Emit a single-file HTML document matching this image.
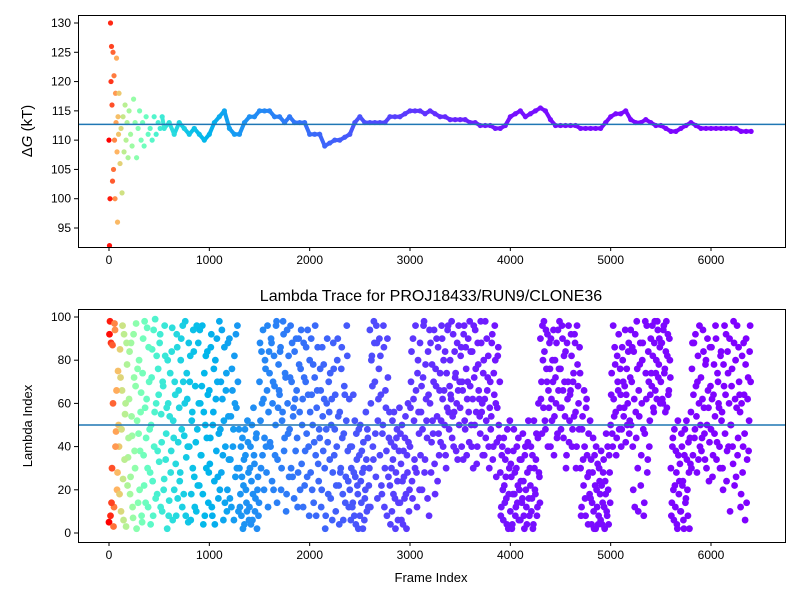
<!DOCTYPE html>
<html><head><meta charset="utf-8">
<style>
body{margin:0;background:#fff;}
svg{display:block;font-family:"Liberation Sans","DejaVu Sans",sans-serif;}
</style></head>
<body>
<svg id="chart" width="800" height="600" viewBox="0 0 800 600" xmlns="http://www.w3.org/2000/svg">
<rect width="800" height="600" fill="#fff"/>
<defs>
<clipPath id="clipTop"><rect x="78" y="15" width="707" height="232"/></clipPath>
<clipPath id="clipBot"><rect x="78" y="309" width="707" height="233"/></clipPath>
</defs>
<g id="topMarks" clip-path="url(#clipTop)"></g>
<g id="botMarks" clip-path="url(#clipBot)"></g>
<g id="axes"></g>
<text x="431" y="301" text-anchor="middle" font-size="16" fill="#000">Lambda Trace for PROJ18433/RUN9/CLONE36</text>
<text x="431" y="582" text-anchor="middle" font-size="13" fill="#000">Frame Index</text>
<text transform="translate(32,131) rotate(-90)" text-anchor="middle" font-size="15" fill="#000">Δ<tspan font-style="italic">G</tspan> (kT)</text>
<text transform="translate(32,426) rotate(-90)" text-anchor="middle" font-size="13" fill="#000">Lambda Index</text>
</svg>
<script>
const xTicks=[0,1000,2000,3000,4000,5000,6000];
const topYTicks=[95,100,105,110,115,120,125,130];
const botYTicks=[0,20,40,60,80,100];
const topMean=112.7;
const botMean=50;
const dgFrames=[0,5,10,15,20,25,30,35,40,45,50,55,60,65,70,75,80,85,90,95,100,110,120,130,140,150,160,170,180,190,200,215,230,245,260,275,290,305,320,335,350,370,390,410,430,450,470,490,510,530];
const dgValues=[110,92,100,130,120,126,116,103,125,105,121,110,100,118,113,124,108,96,114,111,118,106,112,101,114,108,116,110,113,107,115,111,109,117,113,107,112,115,110,113,109,114,111,112,110,114,111,113,112,114];
const dgLateStart=550;
const dgLateStep=50;
const dgLate=[112,113,111,113,112,111,112,111,110,111,113,114,115,112,111,111,113,114,114,115,115,115,114,114,113,114,113,113,113,111,111,111,109,109.5,110,110,110.5,111,113,114,113,113,113,113,113,114,114,114,114.5,115,115,115,114.5,115,114.5,114,114,113.5,113.5,113.5,113.5,113,113,112.5,112.5,112.5,112,112,112.5,114,114.5,115,114,114.5,115,115.5,115,113.5,112.5,112.5,112.5,112.5,112.5,112,112,112,112,112,113,114,114.5,114.5,115,113.5,113,113,113.5,113,112.5,112.5,112,111.5,111.5,112,112.5,113,112.5,112,112,112,112,112,112,112,112,111.5,111.5,111.5];
const lambdaStep=10;
const lambdaValues=[
5,98,88,30,60,12,94,47,20,75, 40,85,10,66,25,92,55,3,78,35, 62,18,88,45,7,72,30,97,52,14, 80,38,65,5,90,22,58,44,95,12,
70,28,50,85,8,40,99,60,18,76, 33,92,55,10,68,25,82,46,2,60, 15,74,38,95,52,20,64,8,86,42, 58,28,90,12,70,45,98,35,62,5,
40,82,18,56,94,26,68,10,48,88, 22,60,36,96,4,74,50,30,84,14, 66,44,92,8,56,24,80,38,70,16, 98,48,28,62,6,86,40,74,20,54,
90,34,12,66,48,82,26,58,96,10, 30,18,8,44,22,4,36,14,52,28, 12,40,24,6,58,32,16,46,20,8, 70,52,84,36,62,44,76,28,96,56,
74,40,88,60,20,68,50,98,34,78, 64,86,30,56,92,44,72,18,60,82, 48,96,70,26,58,84,38,66,12,90, 56,76,32,62,88,22,70,46,94,40,
80,28,64,50,14,72,36,58,86,24, 44,66,20,54,78,30,8,60,42,70, 34,16,62,28,76,48,10,40,90,22, 56,30,86,18,46,64,26,96,38,12,
20,6,40,14,28,52,4,34,18,48, 8,24,38,2,30,16,56,10,44,22, 94,60,82,40,98,70,26,88,52,76, 36,64,18,50,86,30,58,8,72,44,
22,42,10,34,56,16,28,48,6,38, 14,32,50,4,26,44,18,36,60,10, 40,70,24,90,52,30,66,12,80,46, 88,56,20,72,98,34,62,44,84,8,
60,28,78,46,94,18,68,54,86,36, 74,52,90,40,66,84,30,58,96,48, 80,62,44,92,56,72,38,88,66,50, 58,86,70,34,96,48,76,62,90,42,
68,50,84,30,72,94,56,40,78,62, 46,88,60,74,36,98,52,66,82,30, 70,54,92,40,64,80,26,58,86,44, 28,12,40,6,22,34,16,48,2,30,
10,26,4,38,18,8,30,14,44,20, 6,34,16,24,2,40,12,28,52,8, 22,10,36,4,30,18,46,12,60,26, 90,70,96,58,84,48,76,92,66,88,
40,62,80,94,54,72,88,46,66,98, 76,58,90,44,70,84,36,62,96,52, 66,82,48,74,92,56,40,78,60,86, 30,12,54,22,40,8,62,26,46,18,
16,4,28,10,36,2,20,32,8,24, 6,22,14,34,2,18,10,40,4,28, 50,74,40,62,86,56,44,70,92,58, 64,48,80,54,68,42,76,60,88,52,
94,70,40,84,12,56,98,30,66,78, 22,60,88,8,46,74,96,34,70,52, 90,68,82,56,98,74,62,94,78,86, 70,88,60,96,76,84,58,92,66,80,
30,14,44,6,22,38,4,52,18,32, 10,40,24,2,48,16,34,8,28,44, 56,76,36,88,48,68,28,82,60,40, 72,44,94,58,34,80,50,66,24,86,
48,62,36,78,54,90,42,70,58,30, 84,56,20,68,46,92,38,74,60,10, 50,76,32,88,62,26,96,44,70,56, 18,82,40,64,6,90,34,72,52,96];
const lambdaOffset2=5;
const lambdaValues2=[
92,8,14,87,3,97,40,66,28,50, 18,72,48,96,6,34,60,88,22,44, 84,26,54,12,92,38,68,2,76,46, 20,56,8,74,36,98,14,62,30,86,
48,4,72,24,94,56,16,82,38,64, 88,12,42,70,20,96,34,58,80,8, 54,28,84,6,44,70,32,92,16,66, 24,80,48,96,18,60,8,74,40,88,
70,6,52,30,84,12,42,96,22,60, 94,36,68,18,56,8,82,44,64,28, 32,86,12,50,76,4,62,90,26,46, 20,70,94,36,52,14,66,10,88,34,
16,54,76,40,6,60,92,30,70,48, 12,40,26,2,34,48,20,10,42,6, 30,4,50,18,36,10,44,2,26,14, 88,30,60,94,20,80,40,66,12,84,
42,90,24,70,82,36,96,14,58,66, 84,20,52,98,38,74,10,94,46,26, 72,30,88,54,16,62,90,44,28,78, 20,94,50,12,72,38,86,26,64,8,
56,90,20,78,42,96,8,66,32,48, 76,12,86,38,62,2,48,90,18,56, 74,50,6,88,36,64,22,80,54,4, 28,76,44,6,68,14,52,82,24,62,
40,30,12,64,8,26,46,22,2,36, 50,14,28,42,6,20,34,48,12,30, 12,80,68,34,88,46,96,16,62,90, 82,22,46,96,12,66,38,90,26,56,
4,30,52,18,40,2,44,24,14,58, 46,6,24,38,16,54,2,28,42,20, 58,84,16,62,34,96,28,74,56,20, 36,68,48,96,28,78,52,16,64,94,
88,42,52,70,32,76,90,24,46,66, 42,96,62,80,50,36,74,94,56,68, 64,98,54,40,84,74,60,34,96,70, 82,40,66,92,52,86,36,70,56,98,
84,40,62,96,50,76,32,88,66,54, 98,56,36,80,62,44,90,72,40,58, 48,88,34,74,96,60,42,82,50,70, 8,36,20,44,14,26,4,38,18,52,
32,2,18,48,28,12,40,22,6,34, 24,14,46,8,36,20,4,42,16,30, 40,16,2,52,20,34,8,44,28,14, 62,46,80,98,52,94,70,40,58,76,
90,52,70,36,80,60,44,94,76,58, 48,96,66,82,54,30,88,70,42,64, 92,40,70,54,88,30,96,68,48,74, 8,48,34,66,16,58,36,4,28,52,
34,14,44,2,22,40,12,4,30,18, 38,4,28,12,24,46,8,20,36,14, 64,46,96,54,78,36,82,66,48,76, 40,86,70,58,94,64,50,84,46,72,
50,86,20,62,92,44,76,10,54,88, 36,80,48,14,98,62,28,84,40,64, 74,96,58,88,66,80,98,72,90,60, 88,62,94,74,56,98,82,64,90,72,
8,40,20,48,12,28,2,36,24,10, 46,22,6,36,14,52,20,42,2,32, 30,88,64,44,92,54,70,34,96,50, 38,62,84,46,78,30,90,58,42,68,
86,26,64,46,96,34,74,60,40,82, 52,30,78,96,64,24,84,40,90,50, 68,40,98,22,80,58,36,86,64,12, 60,28,88,46,78,14,62,38,84,70];

const NS="http://www.w3.org/2000/svg";
const X0=78,X1=785,TY0=15,TY1=247,BY0=309,BY1=542;
function xs(f){return 109+f*(602/6000);}
function ysTop(v){return 23+(130-v)*(205/35);}
function ysBot(v){return 533-v*2.16;}
const cStopsF=[0,30,80,150,300,500,800,1300,2000,3000,4000,6400];
const cStopsT=[1,0.9,0.75,0.62,0.5,0.38,0.28,0.2,0.14,0.07,0.02,0];
function color(f){
  let t=0;
  for(let i=0;i<cStopsF.length-1;i++){
    if(f>=cStopsF[i]&&f<=cStopsF[i+1]){const u=(f-cStopsF[i])/(cStopsF[i+1]-cStopsF[i]);t=cStopsT[i]+u*(cStopsT[i+1]-cStopsT[i]);break;}
  }
  const r=Math.min(1,Math.abs(2*t-0.5)),g=Math.sin(Math.PI*t),b=Math.cos(Math.PI*t/2);
  return `rgb(${Math.round(r*255)},${Math.round(g*255)},${Math.round(b*255)})`;
}
function mk(tag,attrs,parent){const e=document.createElementNS(NS,tag);for(const k in attrs)e.setAttribute(k,attrs[k]);parent.appendChild(e);return e;}

const topG=document.getElementById('topMarks');
const allFrames=dgFrames.slice(),allVals=dgValues.slice();
dgLate.forEach((v,i)=>{allFrames.push(dgLateStart+i*dgLateStep);allVals.push(v);});
for(let i=1;i<allFrames.length;i++){
  if(allFrames[i]<550)continue;
  const l=mk('line',{x1:xs(allFrames[i-1]),y1:ysTop(allVals[i-1]),x2:xs(allFrames[i]),y2:ysTop(allVals[i]),stroke:color(allFrames[i]),'stroke-width':4,'stroke-linecap':'round'},topG);
  
  
}
for(let i=0;i<allFrames.length;i++){
  const c=mk('circle',{cx:xs(allFrames[i]),cy:ysTop(allVals[i]),r:2.6,fill:color(allFrames[i])},topG);
  
  
}
const botG=document.getElementById('botMarks');
lambdaValues.forEach((v,i)=>{
  const f=i*lambdaStep;
  const c=mk('circle',{cx:xs(f),cy:ysBot(v),r:3.4,fill:color(f)},botG);
  
  
});
lambdaValues2.forEach((v,i)=>{
  const f=i*lambdaStep+lambdaOffset2;
  const c=mk('circle',{cx:xs(f),cy:ysBot(v),r:3.4,fill:color(f)},botG);
  
  
});
const axesG=document.getElementById('axes');
const ml1=mk('line',{x1:X0,x2:X1,y1:ysTop(topMean),y2:ysTop(topMean),stroke:'#1f77b4','stroke-width':1.5},axesG);


const ml2=mk('line',{x1:X0,x2:X1,y1:ysBot(botMean),y2:ysBot(botMean),stroke:'#1f77b4','stroke-width':1.5},axesG);


[[TY0,TY1,'top-plot-frame'],[BY0,BY1,'bottom-plot-frame']].forEach(([a,b,n])=>{
  const r=mk('rect',{x:X0+0.5,y:a+0.5,width:X1-X0,height:b-a,fill:'none',stroke:'#000','stroke-width':1},axesG);
  
  
});
[[TY1,'top'],[BY1,'bottom']].forEach(([yb,p])=>{
  xTicks.forEach(t=>{
    const x=xs(t);
    mk('line',{x1:x,x2:x,y1:yb,y2:yb+4,stroke:'#000'},axesG);
    const tx=mk('text',{x:x,y:yb+17,'text-anchor':'middle','font-size':12},axesG);
    tx.textContent=t;
    
    
  });
});
topYTicks.forEach(t=>{
  const y=ysTop(t);
  mk('line',{x1:X0-4,x2:X0,y1:y,y2:y,stroke:'#000'},axesG);
  const tx=mk('text',{x:X0-7,y:y+4,'text-anchor':'end','font-size':12},axesG);
  tx.textContent=t;
  
  
});
botYTicks.forEach(t=>{
  const y=ysBot(t);
  mk('line',{x1:X0-4,x2:X0,y1:y,y2:y,stroke:'#000'},axesG);
  const tx=mk('text',{x:X0-7,y:y+4,'text-anchor':'end','font-size':12},axesG);
  tx.textContent=t;
  
  
});
</script>
</body></html>
